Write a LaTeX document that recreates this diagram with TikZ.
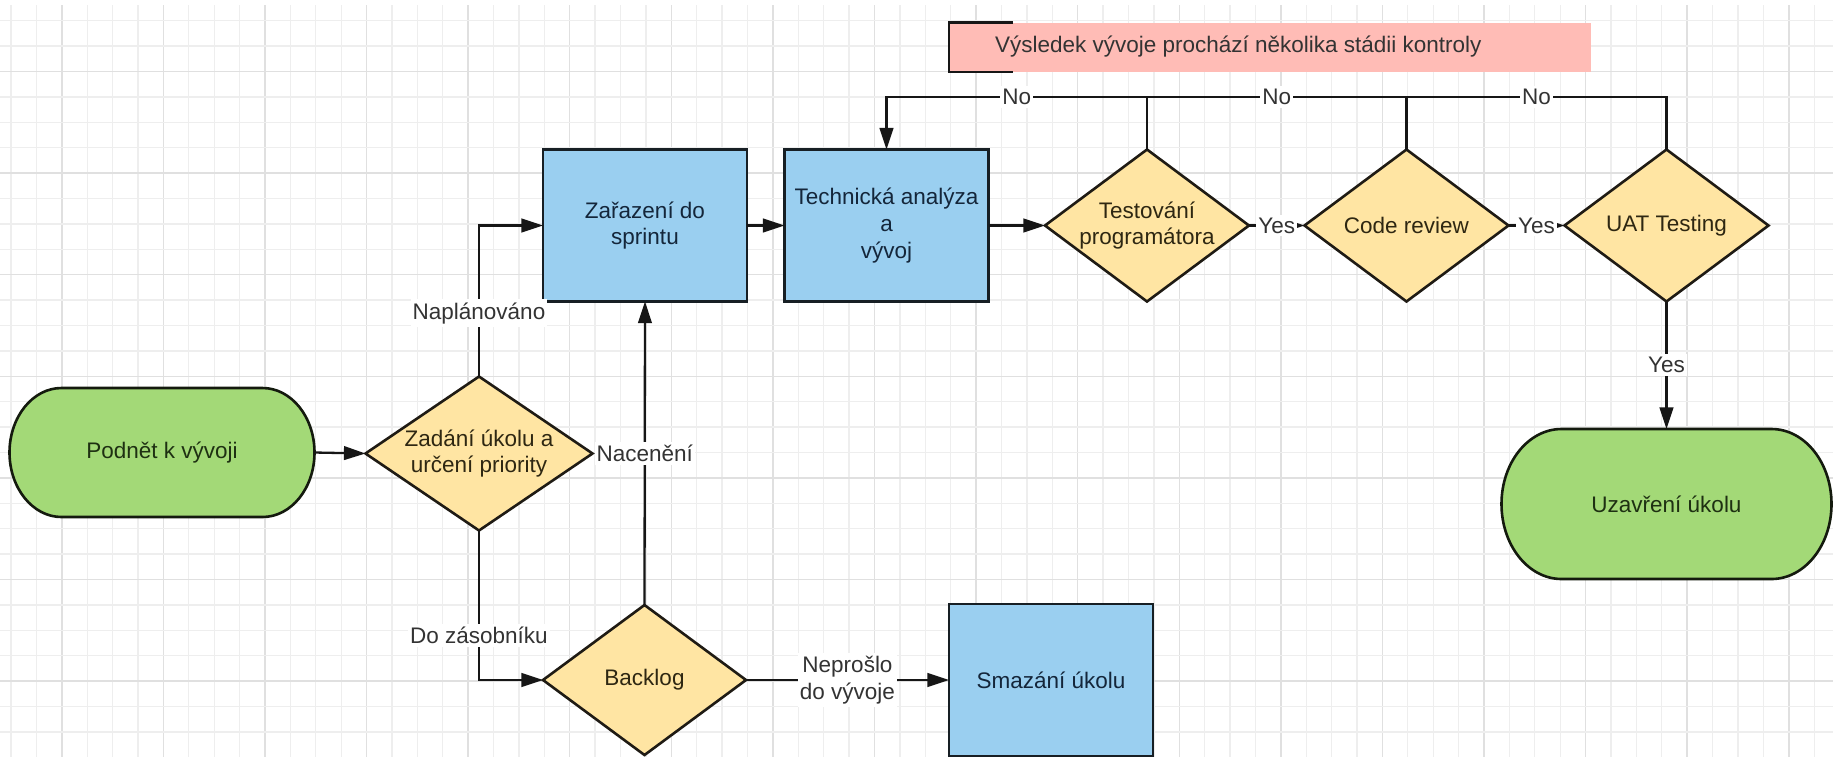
\documentclass[tikz,border=0pt]{standalone}
\usepackage{fontspec}
\setmainfont{Liberation Sans}
\usetikzlibrary{arrows.meta,calc}
\pgfdeclarelayer{gridlayer}
\pgfdeclarelayer{shapelayer}
\pgfsetlayers{gridlayer,shapelayer,main}
\definecolor{gfill}{HTML}{A3D977}
\definecolor{bfill}{HTML}{9ACFF0}
\definecolor{yfill}{HTML}{FFE5A3}
\definecolor{pfill}{HTML}{FFBCB6}
\definecolor{gridminor}{HTML}{EEEEEE}
\definecolor{gridmajor}{HTML}{E0E0E0}
\definecolor{gtext}{HTML}{1E3012}
\definecolor{btext}{HTML}{14263A}
\definecolor{ytext}{HTML}{2E2712}
\definecolor{lbltext}{HTML}{333333}
\definecolor{edge}{HTML}{161616}
\begin{document}
\begin{tikzpicture}[x=0.5pt,y=-0.5pt,
  every node/.style={font=\fontsize{11.25}{13.4}\selectfont, outer sep=0pt},
  bluebox/.style={rectangle, draw=black!85!bfill, line width=1.3pt, fill=bfill, text=btext,
    minimum width=102pt, minimum height=76pt, align=center, inner sep=0pt},
  holder/.style={rectangle, draw=none, align=center, inner sep=0pt},
  dshape/.style={draw=black!88!yfill, line width=1.3pt, fill=yfill, line join=miter},
  gshape/.style={draw=black!88!gfill, line width=1.3pt, fill=gfill},
  conn/.style={draw=edge, line width=1.15pt},
  arr/.style={conn, -{Triangle[length=10.8pt,width=6.8pt]}},
  lbl/.style={fill=white, text=lbltext, inner xsep=1pt, inner ysep=1.5pt, align=center},
  gminor/.style={draw=gridminor, line width=0.65pt},
  gmajor/.style={draw=gridmajor, line width=0.75pt}]
\useasboundingbox (0,0) rectangle (1833,757);
\begin{pgfonlayer}{gridlayer}
  \fill[white] (0,0) rectangle (1833,757);
  \foreach \k in {0,...,71} {
    \pgfmathtruncatemacro{\m}{mod(\k,4)}
    \ifnum\m=2 \draw[gmajor] ({11+25.397*\k},5) -- ({11+25.397*\k},757);
    \else \draw[gminor] ({11+25.397*\k},5) -- ({11+25.397*\k},757); \fi
  }
  \foreach \k in {0,...,28} {
    \pgfmathtruncatemacro{\m}{mod(\k,4)}
    \ifnum\m=2 \draw[gmajor] (0,{20.7+25.4*\k}) -- (1833,{20.7+25.4*\k});
    \else \draw[gminor] (0,{20.7+25.4*\k}) -- (1833,{20.7+25.4*\k}); \fi
  }
\end{pgfonlayer}

% note
\node[rectangle, fill=pfill, minimum width=321pt, minimum height=24.75pt, inner sep=0pt] (note) at (1270,47.25) {};
\draw[conn, line width=1.3pt] ($(note.north west)+(64,0)$) -- (note.north west) -- (note.south west) -- ($(note.south west)+(64,0)$);
\node[anchor=west, text=lbltext, inner sep=0pt] (notetext) at ($(note.west)+(46,-1)$) {Výsledek vývoje prochází několika stádii kontroly};

% blue boxes
\node[bluebox] (zar) at (645,225.5) {Zařazení do\\sprintu};
\node[bluebox] (tech) at (886.5,225.5) {Technická analýza\\a\\vývoj};
\node[bluebox] (smaz) at (1051,680) {Smazání úkolu};

% diamonds (holders)
\node[holder, text=ytext, minimum width=113.5pt, minimum height=77pt] (zad) at (479,453.5) {Zadání úkolu a\\určení priority};
\node[holder, text=ytext, minimum width=102pt, minimum height=76pt] (test) at (1147,225.5) {Testování\\programátora};
\node[holder, text=ytext, minimum width=102pt, minimum height=76pt] (code) at (1406.5,225.5) {Code review};
\node[holder, text=ytext, minimum width=102pt, minimum height=76pt] (uat) at (1666.5,225.5) {UAT Testing};
\node[holder, text=ytext, minimum width=101.5pt, minimum height=75pt] (back) at (644.5,680) {Backlog};

% terminators (holders)
\node[holder, text=gtext, minimum width=152.5pt, minimum height=64.5pt] (podnet) at (162,452.5) {Podnět k vývoji};
\node[holder, text=gtext, minimum width=165pt, minimum height=75pt] (uzav) at (1666.5,504) {Uzavření úkolu};

\begin{pgfonlayer}{shapelayer}
  \foreach \n in {zad,test,code,uat,back}
    \draw[dshape] (\n.north) -- (\n.east) -- (\n.south) -- (\n.west) -- cycle;
  \draw[gshape] ($(podnet.north west)+(52,0)$) -- ($(podnet.north east)+(-52,0)$)
     arc[start angle=-90,end angle=90,x radius=52,y radius=64.5]
     -- ($(podnet.south west)+(52,0)$)
     arc[start angle=90,end angle=270,x radius=52,y radius=64.5] -- cycle;
  \draw[gshape] ($(uzav.north west)+(60,0)$) -- ($(uzav.north east)+(-60,0)$)
     arc[start angle=-90,end angle=90,x radius=60,y radius=75]
     -- ($(uzav.south west)+(60,0)$)
     arc[start angle=90,end angle=270,x radius=60,y radius=75] -- cycle;
\end{pgfonlayer}

\coordinate (noy) at (0,97);

% connectors
\draw[arr] (podnet.east) -- (zad.west);
\draw[arr] (zad.north) |- node[lbl, pos=0.21] {Naplánováno} (zar.west);
\draw[arr] (zad.south) |- node[lbl, pos=0.35] {Do zásobníku} (back.west);
\draw[arr] (back.north) -- node[lbl] {Nacenění} (zar.south);
\draw[arr] (back.east) -- node[lbl] {Neprošlo\\do vývoje} (smaz.west);
\draw[arr] (zar.east) -- (tech.west);
\draw[arr] (tech.east) -- (test.west);
\draw[arr] (test.east) -- node[lbl] {Yes} (code.west);
\draw[arr] (code.east) -- node[lbl] {Yes} (uat.west);
\draw[arr] (uat.south) -- node[lbl] {Yes} (uzav.north);
\draw[arr] (test.north) -- (test.north |- noy) -- node[lbl] {No} (tech.north |- noy) -- (tech.north);
\draw[conn] (code.north) -- (code.north |- noy) -- node[lbl] {No} (test.north |- noy);
\draw[conn] (uat.north) -- (uat.north |- noy) -- node[lbl] {No} (code.north |- noy);
\end{tikzpicture}
\end{document}
